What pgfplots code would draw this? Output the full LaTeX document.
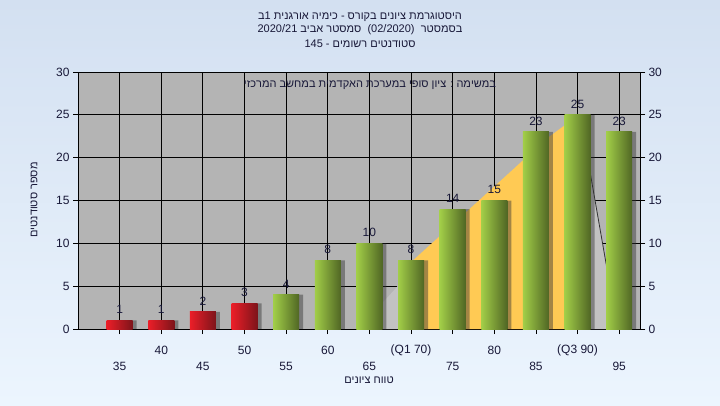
\documentclass[border=0pt]{standalone}
\usepackage{pgfplots}
\pgfplotsset{compat=1.18}
\usepackage{fontspec}
\setmainfont{Liberation Sans}
\TeXXeTstate=1
\definecolor{bgtop}{RGB}{211,224,241}
\definecolor{bgbot}{RGB}{236,245,254}
\definecolor{plotbg}{RGB}{180,180,180}
\definecolor{areagray}{RGB}{194,194,194}
\definecolor{areayel}{RGB}{255,202,84}
\definecolor{txt}{RGB}{24,24,56}
\definecolor{redL}{RGB}{235,30,40}
\definecolor{redM}{RGB}{255,112,118}
\definecolor{redR}{RGB}{125,20,26}
\definecolor{grnL}{RGB}{162,206,72}
\definecolor{grnM}{RGB}{198,226,142}
\definecolor{grnR}{RGB}{80,102,36}
\newcommand{\fs}{\fontsize{11bp}{13bp}\selectfont}
\newcommand{\ft}{\fontsize{12bp}{14bp}\selectfont}
\pgfplotsset{
  barbase/.style={ybar, bar width=26bp, bar shift=0pt, draw=none,
    nodes near coords, every node near coord/.append style={font=\ft, color=txt, yshift=3bp}},
  redbar/.style={barbase, left color=redL, middle color=redM, right color=redR},
  grnbar/.style={barbase, left color=grnL, middle color=grnM, right color=grnR},
}
\begin{document}
\begin{tikzpicture}[x=1bp,y=1bp]
\shade[top color=bgtop,bottom color=bgbot] (0,0) rectangle (720,405);
% titles
\node[font=\fs,color=txt] at (360,388) {\beginR היסטוגרמת ציונים בקורס - כימיה אורגנית 1ב\endR};
\node[font=\fs,color=txt] at (360,375) {\beginR בסמסטר \ \beginL(02/2020)\endL{} \ סמסטר אביב 2020/21\endR};
\node[font=\fs,color=txt] at (360,361) {\beginR סטודנטים רשומים - 145\endR};
\begin{axis}[
  at={(78bp,76bp)}, anchor=south west, scale only axis,
  width=562bp, height=257bp,
  xmin=30, xmax=97.5, ymin=0, ymax=30,
  axis background/.style={fill=plotbg},
  axis line style={black, line width=0.8bp},
  grid=major, major grid style={black, line width=0.8bp},
  tick align=outside, major tick length=5bp,
  tick style={black, line width=0.8bp},
  xtick pos=bottom, ytick pos=both,
  yticklabel pos=left,
  xtick={35,45,...,95},
  ytick={0,5,...,30},
  /pgf/number format/assume math mode=true,
  tick label style={font=\ft, color=txt},
  xticklabel style={anchor=center, yshift=-32bp},
  extra x ticks={40,50,60,70,80,90},
  extra x tick labels={40,50,60,(Q1 70),80,(Q3 90)},
  extra x tick style={grid=major, xticklabel style={yshift=16bp}},
  clip=true,
]
% quartile area
\addplot[fill=areagray, draw=none] coordinates {(63.6,0) (66.9,3.4) (68.3,4.9) (70,7.8) (70,0)} -- cycle;
\addplot[fill=areayel, draw=none] coordinates {(70,0) (70,7.8) (86.4,22.3) (88.2,23.6) (90.3,25) (90.3,0)} -- cycle;
\addplot[fill=areagray, draw=none] coordinates {(90.3,0) (90.3,25) (94.8,0)} -- cycle;
\addplot[color=black!80, line width=0.8bp] coordinates {(90.3,25) (94.8,0)};
% shadows
\addplot[ybar, bar width=24bp, bar shift=5bp, fill=black!80, opacity=0.45, draw=none]
  coordinates {(35,1)(40,1)(45,2)(50,3)(55,4)(60,8)(65,10)(70,8)(75,14)(80,15)(85,23)(90,25)(95,23)};
% bars
\addplot[redbar] coordinates {(35,1)};
\addplot[redbar] coordinates {(40,1)};
\addplot[redbar] coordinates {(45,2)};
\addplot[redbar] coordinates {(50,3)};
\addplot[grnbar] coordinates {(55,4)};
\addplot[grnbar] coordinates {(60,8)};
\addplot[grnbar] coordinates {(65,10)};
\addplot[grnbar] coordinates {(70,8)};
\addplot[grnbar] coordinates {(75,14)};
\addplot[grnbar] coordinates {(80,15)};
\addplot[grnbar] coordinates {(85,23)};
\addplot[grnbar] coordinates {(90,25)};
\addplot[grnbar] coordinates {(95,23)};
\end{axis}
\begin{axis}[
  at={(78bp,76bp)}, anchor=south west, scale only axis,
  width=562bp, height=257bp,
  xmin=30, xmax=97.5, ymin=0, ymax=30,
  hide x axis, axis y line*=right,
  axis line style={black, line width=0.8bp},
  tick align=outside, major tick length=5bp,
  tick style={black, line width=0.8bp},
  ytick={0,5,...,30},
  /pgf/number format/assume math mode=true,
  tick label style={font=\ft, color=txt},
]
\end{axis}
\node[font=\fs,color=txt] at (370,320) {\beginR במשימה : ציון סופי במערכת האקדמית במחשב המרכזי\endR};
\node[font=\fs,color=txt,rotate=90] at (34,205) {\beginR מספר סטודנטים\endR};
\node[font=\fs,color=txt] at (369,25) {\beginR טווח ציונים\endR};
\end{tikzpicture}
\end{document}
